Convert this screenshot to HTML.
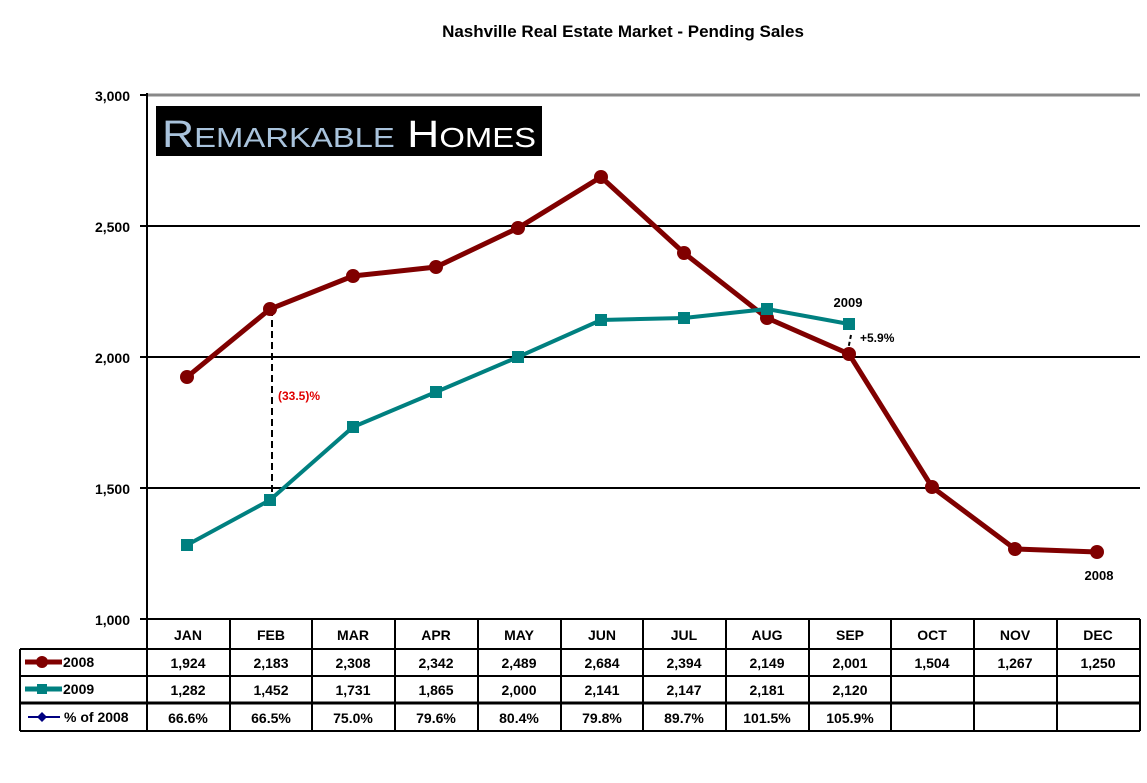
<!DOCTYPE html>
<html><head><style>body{margin:0;background:#fff}svg{display:block}text{font-family:"Liberation Sans",Arial,sans-serif;font-weight:bold}</style></head><body>
<svg width="1147" height="783" xmlns="http://www.w3.org/2000/svg">
<text x="623" y="37" font-size="17" text-anchor="middle">Nashville Real Estate Market - Pending Sales</text>
<line x1="147" y1="95" x2="1140" y2="95" stroke="#888" stroke-width="3"/>
<line x1="147" y1="226" x2="1140" y2="226" stroke="#000" stroke-width="2"/>
<line x1="147" y1="357" x2="1140" y2="357" stroke="#000" stroke-width="2"/>
<line x1="147" y1="488" x2="1140" y2="488" stroke="#000" stroke-width="2"/>
<line x1="147" y1="93" x2="147" y2="731" stroke="#000" stroke-width="2"/>
<g font-size="14" text-anchor="end"><text x="130" y="101">3,000</text><text x="130" y="232">2,500</text><text x="130" y="363">2,000</text><text x="130" y="494">1,500</text><text x="130" y="625">1,000</text></g>
<g stroke="#000" stroke-width="2"><line x1="140" y1="95" x2="147" y2="95"/><line x1="140" y1="226" x2="147" y2="226"/><line x1="140" y1="357" x2="147" y2="357"/><line x1="140" y1="488" x2="147" y2="488"/><line x1="140" y1="619" x2="147" y2="619"/></g>
<rect x="156" y="106" width="386" height="50" fill="#000"/>
<text x="162" y="147" font-size="38" fill="#a9c3dc" style="font-weight:normal" textLength="374" lengthAdjust="spacingAndGlyphs">R<tspan font-size="28">EMARKABLE</tspan> <tspan fill="#fff">H<tspan font-size="28">OMES</tspan></tspan></text>
<line x1="272" y1="309" x2="272" y2="498" stroke="#000" stroke-width="2" stroke-dasharray="7,4"/>
<text x="278" y="400" font-size="12" fill="#e00000">(33.5)%</text>
<line x1="851" y1="335" x2="848" y2="350" stroke="#000" stroke-width="2" stroke-dasharray="4,3"/>
<text x="860" y="342" font-size="12">+5.9%</text>
<text x="848" y="307" font-size="13" text-anchor="middle">2009</text>
<text x="1099" y="580" font-size="13" text-anchor="middle">2008</text>
<polyline fill="none" stroke="#800000" stroke-width="5" points="187,377 270,309 353,276 436,267 518,228 601,177 684,253 767,318 849,354 932,487 1015,549 1097,552"/>
<g fill="#800000"><circle cx="187" cy="377" r="7"/><circle cx="270" cy="309" r="7"/><circle cx="353" cy="276" r="7"/><circle cx="436" cy="267" r="7"/><circle cx="518" cy="228" r="7"/><circle cx="601" cy="177" r="7"/><circle cx="684" cy="253" r="7"/><circle cx="767" cy="318" r="7"/><circle cx="849" cy="354" r="7"/><circle cx="932" cy="487" r="7"/><circle cx="1015" cy="549" r="7"/><circle cx="1097" cy="552" r="7"/></g>
<polyline fill="none" stroke="#008080" stroke-width="4" points="187,545 270,500 353,427 436,392 518,357 601,320 684,318 767,309 849,324"/>
<g fill="#008080"><rect x="181" y="539" width="12" height="12"/><rect x="264" y="494" width="12" height="12"/><rect x="347" y="421" width="12" height="12"/><rect x="430" y="386" width="12" height="12"/><rect x="512" y="351" width="12" height="12"/><rect x="595" y="314" width="12" height="12"/><rect x="678" y="312" width="12" height="12"/><rect x="761" y="303" width="12" height="12"/><rect x="843" y="318" width="12" height="12"/></g>
<g stroke="#000" stroke-width="2" fill="none">
<line x1="147" y1="619" x2="1140" y2="619"/><line x1="20" y1="649" x2="1140" y2="649"/><line x1="20" y1="676" x2="1140" y2="676"/><line x1="20" y1="703" x2="1140" y2="703" stroke-width="3"/><line x1="20" y1="731" x2="1140" y2="731"/>
<line x1="20" y1="649" x2="20" y2="731"/><line x1="1140" y1="619" x2="1140" y2="731"/>
<line x1="230" y1="619" x2="230" y2="731"/><line x1="312" y1="619" x2="312" y2="731"/><line x1="395" y1="619" x2="395" y2="731"/><line x1="478" y1="619" x2="478" y2="731"/><line x1="561" y1="619" x2="561" y2="731"/><line x1="643" y1="619" x2="643" y2="731"/><line x1="726" y1="619" x2="726" y2="731"/><line x1="809" y1="619" x2="809" y2="731"/><line x1="891" y1="619" x2="891" y2="731"/><line x1="974" y1="619" x2="974" y2="731"/><line x1="1057" y1="619" x2="1057" y2="731"/>
</g>
<line x1="25" y1="662" x2="62" y2="662" stroke="#800000" stroke-width="5"/><circle cx="42" cy="662" r="6" fill="#800000"/>
<line x1="25" y1="689" x2="62" y2="689" stroke="#008080" stroke-width="5"/><rect x="37" y="684" width="10" height="10" fill="#008080"/>
<line x1="28" y1="717" x2="60" y2="717" stroke="#000080" stroke-width="2"/><path d="M42 712 L47 717 L42 722 L37 717Z" fill="#000080"/>
<g font-size="14"><text x="63" y="667">2008</text><text x="63" y="694">2009</text><text x="64" y="722">% of 2008</text></g>
<g font-size="14" text-anchor="middle">
<text x="188" y="640">JAN</text><text x="271" y="640">FEB</text><text x="353" y="640">MAR</text><text x="436" y="640">APR</text><text x="519" y="640">MAY</text><text x="602" y="640">JUN</text><text x="684" y="640">JUL</text><text x="767" y="640">AUG</text><text x="850" y="640">SEP</text><text x="932" y="640">OCT</text><text x="1015" y="640">NOV</text><text x="1098" y="640">DEC</text>
<text x="188" y="668">1,924</text><text x="271" y="668">2,183</text><text x="353" y="668">2,308</text><text x="436" y="668">2,342</text><text x="519" y="668">2,489</text><text x="602" y="668">2,684</text><text x="684" y="668">2,394</text><text x="767" y="668">2,149</text><text x="850" y="668">2,001</text><text x="932" y="668">1,504</text><text x="1015" y="668">1,267</text><text x="1098" y="668">1,250</text>
<text x="188" y="695">1,282</text><text x="271" y="695">1,452</text><text x="353" y="695">1,731</text><text x="436" y="695">1,865</text><text x="519" y="695">2,000</text><text x="602" y="695">2,141</text><text x="684" y="695">2,147</text><text x="767" y="695">2,181</text><text x="850" y="695">2,120</text>
<text x="188" y="723">66.6%</text><text x="271" y="723">66.5%</text><text x="353" y="723">75.0%</text><text x="436" y="723">79.6%</text><text x="519" y="723">80.4%</text><text x="602" y="723">79.8%</text><text x="684" y="723">89.7%</text><text x="767" y="723">101.5%</text><text x="850" y="723">105.9%</text>
</g>
</svg>
</body></html>
